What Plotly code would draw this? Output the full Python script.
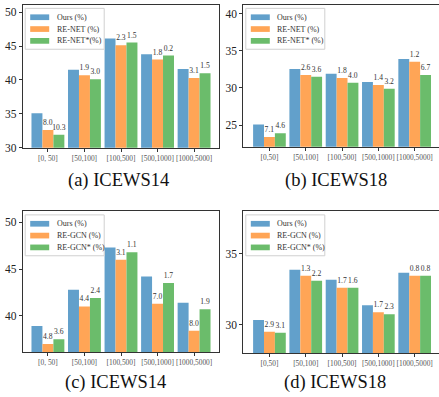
import plotly.graph_objects as go

W, H = 439, 397

# ---------------- data ----------------
cats_a = ["[0, 50]", "[50,100]", "[100,500]", "[500,1000]", "[1000,5000]"]
cats_b = ["[0,50]", "[50,100]", "[100,500]", "[500,1000]", "[1000,5000]"]
cats_c = ["[0, 50]", "[50,100]", "[100,500]", "[500,1000]", "[1000,5000]"]
cats_d = ["[0,50]", "[50,100]", "[100,500]", "[500,1000]", "[1000,5000]"]

a_ours = [35.1, 41.5, 46.1, 43.8, 41.6]
a_renet = [32.6, 40.7, 45.1, 43.0, 40.3]
a_renet_star = [31.9, 40.1, 45.5, 43.6, 41.0]
a_lbl_renet = ["8.0", "1.9", "2.3", "1.8", "3.1"]
a_lbl_renet_star = ["10.3", "3.0", "1.5", "0.2", "1.5"]

b_ours = [25.1, 32.55, 31.9, 30.8, 33.9]
b_renet = [23.4, 31.75, 31.35, 30.4, 33.5]
b_renet_star = [23.9, 31.5, 30.7, 29.9, 31.75]
b_lbl_renet = ["7.1", "2.6", "1.8", "1.4", "1.2"]
b_lbl_renet_star = ["4.6", "3.6", "4.0", "3.2", "6.7"]

c_ours = [38.9, 42.8, 47.3, 44.2, 41.4]
c_regcn = [37.0, 41.0, 46.0, 41.3, 38.4]
c_regcn_star = [37.5, 41.9, 46.8, 43.5, 40.7]
c_lbl_regcn = ["4.8", "4.4", "3.1", "7.0", "8.0"]
c_lbl_regcn_star = ["3.6", "2.4", "1.1", "1.7", "1.9"]

d_ours = [30.33, 33.87, 33.17, 31.37, 33.66]
d_regcn = [29.5, 33.45, 32.6, 30.88, 33.45]
d_regcn_star = [29.43, 33.1, 32.6, 30.74, 33.45]
d_lbl_regcn = ["2.9", "1.3", "1.7", "1.7", "0.8"]
d_lbl_regcn_star = ["3.1", "2.2", "1.6", "2.3", "0.8"]

names_a = ["Ours (%)", "RE-NET (%)", "RE-NET*(%)"]
names_b = ["Ours (%)", "RE-NET (%)", "RE-NET* (%)"]
names_c = ["Ours (%)", "RE-GCN (%)", "RE-GCN* (%)"]
names_d = ["Ours (%)", "RE-GCN (%)", "RE-GCN* (%)"]

titles = ["(a) ICEWS14", "(b) ICEWS18", "(c) ICEWS14", "(d) ICEWS18"]
yranges = [[30, 51.06], [22.1, 41.15], [36.1, 51.16], [28, 38]]
yticks = [[30, 35, 40, 45, 50], [25, 30, 35, 40], [40, 45, 50], [30, 35]]

# ---------------- style ----------------
COLORS = ["#62A0CB", "#FFA556", "#6BBC6B"]
SERIF = "Liberation Serif"

# panel boxes in pixels: left, right, top, bottom
boxes = [
    (22.7, 219.3, 5.0, 150.0),
    (243.3, 439.0, 5.0, 149.0),
    (22.7, 219.3, 214.7, 357.7),
    (243.3, 439.0, 214.7, 358.3),
]
xranges = [[-0.69, 4.69], [-0.72, 4.67], [-0.69, 4.69], [-0.72, 4.67]]
title_pos = [(118, 183.5), (335.5, 183.5), (115, 388.0), (335, 388.0)]

panels = [
    (cats_a, [a_ours, a_renet, a_renet_star], [None, a_lbl_renet, a_lbl_renet_star], names_a),
    (cats_b, [b_ours, b_renet, b_renet_star], [None, b_lbl_renet, b_lbl_renet_star], names_b),
    (cats_c, [c_ours, c_regcn, c_regcn_star], [None, c_lbl_regcn, c_lbl_regcn_star], names_c),
    (cats_d, [d_ours, d_regcn, d_regcn_star], [None, d_lbl_regcn, d_lbl_regcn_star], names_d),
]

fig = go.Figure()
shapes = []
annotations = []

for i, (cats, series, labels, names) in enumerate(panels):
    n = i + 1
    xa = "x" if n == 1 else f"x{n}"
    ya = "y" if n == 1 else f"y{n}"
    pos = list(range(len(cats)))
    for j in range(3):
        kw = {}
        if labels[j] is not None:
            kw = dict(text=labels[j], textposition="outside", textangle=0,
                      constraintext="none", cliponaxis=False,
                      textfont=dict(family=SERIF, size=7.6, color="#333"))
        fig.add_trace(go.Bar(x=pos, y=series[j], name=names[j], marker_color=COLORS[j],
                             marker_line_width=0, xaxis=xa, yaxis=ya, showlegend=False,
                             **kw))

    L, R, T, B = boxes[i]
    mirror_y = i in (0, 2)
    xkey = "xaxis" if n == 1 else f"xaxis{n}"
    ykey = "yaxis" if n == 1 else f"yaxis{n}"
    fig.update_layout(**{
        xkey: dict(domain=[L / W, min(R / W, 1.0)], anchor=ya, type="linear",
                   range=xranges[i], autorange=False, tickvals=pos, ticktext=cats,
                   tickangle=0, showline=True, linecolor="#333", linewidth=1,
                   mirror=True, ticks="outside", ticklen=3, tickcolor="#333",
                   tickfont=dict(family=SERIF, size=7.4, color="#555"),
                   showgrid=False, zeroline=False, fixedrange=True),
        ykey: dict(domain=[1 - B / H, 1 - T / H], anchor=xa, range=yranges[i],
                   autorange=False, tickvals=yticks[i], showline=True, linecolor="#333",
                   linewidth=1, mirror=mirror_y, ticks="outside", ticklen=3, tickcolor="#333",
                   tickfont=dict(family=SERIF, size=11.5, color="#222"),
                   showgrid=False, zeroline=False, fixedrange=True),
    })

    # legend box (drawn manually)
    bx, by = L + 2.5, T + 3.5
    shapes.append(dict(type="rect", xref="paper", yref="paper",
                       x0=bx / W, x1=(bx + 79) / W, y0=1 - (by + 41.5) / H, y1=1 - by / H,
                       line=dict(color="#d0d0d0", width=1), fillcolor="rgba(255,255,255,0.85)",
                       layer="above"))
    for j in range(3):
        cy = T + 12.5 + 12.0 * j
        shapes.append(dict(type="rect", xref="paper", yref="paper",
                           x0=(L + 7.5) / W, x1=(L + 26.5) / W,
                           y0=1 - (cy + 2.9) / H, y1=1 - (cy - 2.9) / H,
                           line=dict(width=0), fillcolor=COLORS[j], layer="above"))
        annotations.append(dict(xref="paper", yref="paper", x=(L + 32) / W, y=1 - cy / H,
                                text=names[j], showarrow=False, xanchor="left", yanchor="middle",
                                font=dict(family=SERIF, size=8, color="#333")))

    tx, ty = title_pos[i]
    annotations.append(dict(xref="paper", yref="paper", x=tx / W, y=1 - ty / H,
                            text=titles[i], showarrow=False, xanchor="center", yanchor="middle",
                            font=dict(family=SERIF, size=18.5, color="#111")))

fig.update_layout(width=W, height=H, margin=dict(l=0, r=0, t=0, b=0),
                  paper_bgcolor="white", plot_bgcolor="white",
                  barmode="group", bargap=0.1, bargroupgap=0,
                  shapes=shapes, annotations=annotations, showlegend=False)

fig.write_html("out.html", config={"displayModeBar": False},
               post_script="document.body.style.margin='0';document.body.style.overflow='hidden';")
